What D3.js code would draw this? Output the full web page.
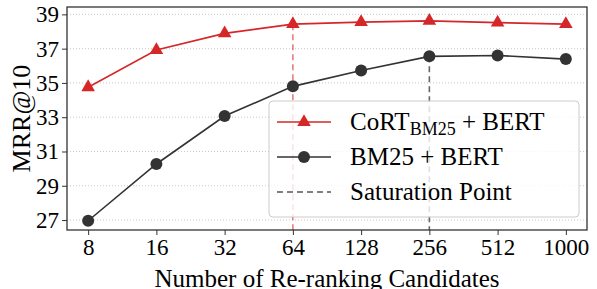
<!DOCTYPE html>
<html>
<head>
<meta charset="utf-8">
<script src="https://cdn.jsdelivr.net/npm/d3@7"></script>
<style>
  body { margin: 0; background: #fff; }
  svg { display: block; font-family: "Liberation Serif", "DejaVu Serif", serif; }
</style>
</head>
<body>
<svg id="chart" width="597" height="289"></svg>
<script>
const candidates = ["8", "16", "32", "64", "128", "256", "512", "1000"]
const cortValues = [34.75, 36.92, 37.89, 38.43, 38.55, 38.62, 38.52, 38.43]
const bm25Values = [26.96, 30.27, 33.07, 34.8, 35.73, 36.55, 36.6, 36.39]
const yTicks = [27, 29, 31, 33, 35, 37, 39]
const cortSaturation = "64"
const bm25Saturation = "256"

const svg = d3.select("#chart")
const margin = { top: 7, right: 10, bottom: 59, left: 67 }
const width = 597 - margin.left - margin.right
const height = 289 - margin.top - margin.bottom

const red = "#d62728"
const dark = "#333333"

const x = d3.scalePoint().domain(candidates).range([0, width]).padding(0.31)
const y = d3.scaleLinear().domain([26.42, 39.43]).range([height, 0])

const g = svg.append("g").attr("transform", `translate(${margin.left},${margin.top})`)

// dotted horizontal grid
g.append("g")
  .selectAll("line")
  .data(yTicks)
  .join("line")
  .attr("x1", 0)
  .attr("x2", width)
  .attr("y1", (d) => y(d))
  .attr("y2", (d) => y(d))
  .attr("stroke", "#bbbbbb")
  .attr("stroke-width", 0.8)
  .attr("stroke-dasharray", "1,2")

// saturation markers
const satData = [
  { key: cortSaturation, v: cortValues[candidates.indexOf(cortSaturation)], color: red, op: 0.6 },
  { key: bm25Saturation, v: bm25Values[candidates.indexOf(bm25Saturation)], color: "#555", op: 0.9 }
]
g.append("g")
  .selectAll("line")
  .data(satData)
  .join("line")
  .attr("x1", (d) => x(d.key))
  .attr("x2", (d) => x(d.key))
  .attr("y1", (d) => y(d.v))
  .attr("y2", height)
  .attr("stroke", (d) => d.color)
  .attr("stroke-opacity", (d) => d.op)
  .attr("stroke-width", 1.6)
  .attr("stroke-dasharray", "6,4")

const line = d3.line().x((d, i) => x(candidates[i])).y((d) => y(d))

g.append("path").datum(cortValues).attr("d", line).attr("fill", "none").attr("stroke", red).attr("stroke-width", 1.6)
g.append("path").datum(bm25Values).attr("d", line).attr("fill", "none").attr("stroke", dark).attr("stroke-width", 1.6)

const tri = d3.symbol().type(d3.symbolTriangle).size(80)
g.append("g")
  .selectAll("path")
  .data(cortValues)
  .join("path")
  .attr("d", tri)
  .attr("transform", (d, i) => `translate(${x(candidates[i])},${y(d)})`)
  .attr("fill", red)

g.append("g")
  .selectAll("circle")
  .data(bm25Values)
  .join("circle")
  .attr("cx", (d, i) => x(candidates[i]))
  .attr("cy", (d) => y(d))
  .attr("r", 6)
  .attr("fill", dark)

// axes
const xAxis = g.append("g").attr("transform", `translate(0,${height})`).call(d3.axisBottom(x).tickSize(5).tickPadding(4))
const yAxis = g.append("g").call(d3.axisLeft(y).tickValues(yTicks).tickSize(5).tickPadding(3))
;[xAxis, yAxis].forEach((a) => {
  a.attr("font-family", null).attr("font-size", null)
  a.select(".domain").remove()
  a.selectAll("line").attr("stroke", dark).attr("stroke-width", 1)
  a.selectAll("text").attr("fill", "#000").style("font-family", "Liberation Serif").style("font-size", "23px")
})

g.append("rect")
  .attr("width", width)
  .attr("height", height)
  .attr("fill", "none")
  .attr("stroke", dark)
  .attr("stroke-width", 1.3)

// axis titles
svg.append("text")
  .attr("x", margin.left + width / 2)
  .attr("y", 287)
  .attr("text-anchor", "middle")
  .style("font-size", "25px")
  .text("Number of Re-ranking Candidates")

svg.append("text")
  .attr("transform", `translate(30,${margin.top + height / 2}) rotate(-90)`)
  .attr("text-anchor", "middle")
  .style("font-size", "26px")
  .text("MRR@10")

// legend
const lg = svg.append("g").attr("transform", "translate(269,101)")
lg.append("rect")
  .attr("width", 310)
  .attr("height", 116)
  .attr("rx", 4)
  .attr("fill", "#fff")
  .attr("fill-opacity", 0.8)
  .attr("stroke", "#cccccc")

const rows = [0, 1, 2].map((i) => 21 + i * 35)
lg.append("line").attr("x1", 8).attr("x2", 62).attr("y1", rows[0]).attr("y2", rows[0]).attr("stroke", red).attr("stroke-width", 1.6)
lg.append("path").attr("d", tri).attr("transform", `translate(35,${rows[0]})`).attr("fill", red)
lg.append("line").attr("x1", 8).attr("x2", 62).attr("y1", rows[1]).attr("y2", rows[1]).attr("stroke", dark).attr("stroke-width", 1.6)
lg.append("circle").attr("cx", 35).attr("cy", rows[1]).attr("r", 6).attr("fill", dark)
lg.append("line").attr("x1", 8).attr("x2", 62).attr("y1", rows[2]).attr("y2", rows[2]).attr("stroke", "#555").attr("stroke-width", 1.6).attr("stroke-dasharray", "6,4")

const t0 = lg.append("text").attr("x", 81).attr("y", rows[0] + 8).style("font-size", "25px")
t0.append("tspan").text("CoRT")
t0.append("tspan").attr("dy", 5).style("font-size", "18px").text("BM25")
t0.append("tspan").attr("dy", -5).text(" + BERT")
lg.append("text").attr("x", 81).attr("y", rows[1] + 8).style("font-size", "25px").text("BM25 + BERT")
lg.append("text").attr("x", 81).attr("y", rows[2] + 8).style("font-size", "25px").text("Saturation Point")
</script>
</body>
</html>
